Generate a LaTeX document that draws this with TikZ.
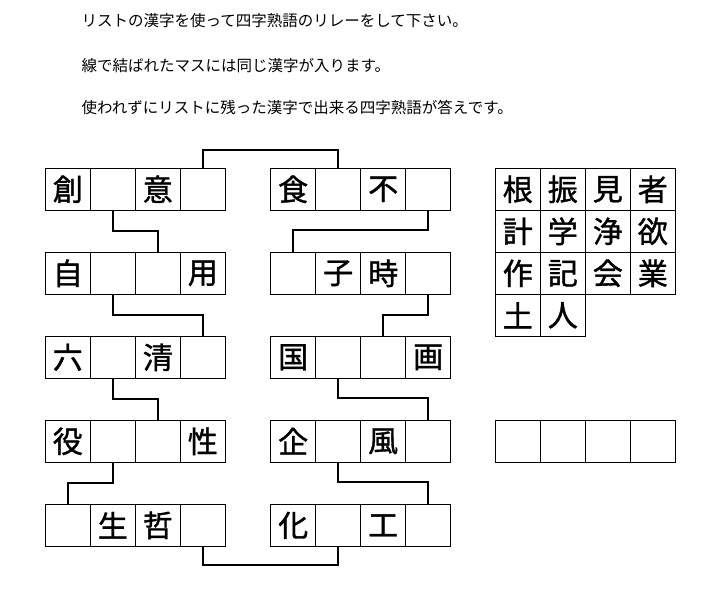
\documentclass[tikz,border=0pt]{standalone}
\usepackage{fontspec}
\newfontfamily\jp{Noto Sans CJK JP}
\newfontfamily\jpcell[FakeBold=1.2]{Noto Sans CJK JP}
\usetikzlibrary{calc}
\tikzset{
  cell/.style={draw=black, line width=1.3pt, minimum width=45pt, minimum height=42pt,
    inner sep=0pt, font=\jpcell\fontsize{30}{30}\selectfont},
  conn/.style={draw=black, line width=2pt, line cap=rect},
  instr/.style={anchor=west, inner sep=0pt, font=\jp\fontsize{15.5}{15.5}\selectfont}
}
\newcommand\cellrow[4]{%
  \foreach \ch [count=\i] in {#4} {
    \node[cell] (#1c\i) at ({#2+45*(\i-0.5)}, {-(#3+21)}) {\ch};
  }%
}
\begin{document}
\begin{tikzpicture}[x=1pt, y=1pt]
\useasboundingbox (0,0) rectangle (721,-589);
% instructions
\node[instr] (t1) at (81.5,-21) {リストの漢字を使って四字熟語のリレーをして下さい。};
\node[instr] (t2) at (81.5,-66) {線で結ばれたマスには同じ漢字が入ります。};
\node[instr] (t3) at (81.5,-108) {使われずにリストに残った漢字で出来る四字熟語が答えです。};
% left block
\cellrow{La}{45.3}{168.3}{創,{},意,{}}
\cellrow{Lb}{45.3}{252.3}{自,{},{},用}
\cellrow{Lc}{45.3}{336.3}{六,{},清,{}}
\cellrow{Ld}{45.3}{420.3}{役,{},{},性}
\cellrow{Le}{45.3}{504.3}{{},生,哲,{}}
% right block
\cellrow{Ra}{270.7}{168.3}{食,{},不,{}}
\cellrow{Rb}{270.7}{252.3}{{},子,時,{}}
\cellrow{Rc}{270.7}{336.3}{国,{},{},画}
\cellrow{Rd}{270.7}{420.3}{企,{},風,{}}
\cellrow{Re}{270.7}{504.3}{化,{},工,{}}
% list
\cellrow{Ka}{495.3}{168.3}{根,振,見,者}
\cellrow{Kb}{495.3}{210.3}{計,学,浄,欲}
\cellrow{Kc}{495.3}{252.3}{作,記,会,業}
\cellrow{Kd}{495.3}{294.3}{土,人}
% answer row
\cellrow{Ans}{495.3}{420.3}{{},{},{},{}}
% connectors
\draw[conn] (Lac4.north) -- ++(0,17.3) -| (Rac2.north);
\draw[conn] (Lac2.south) -- ++(0,-20) -| (Lbc3.north);
\draw[conn] (Rac4.south) -- ++(0,-19) -| (Rbc1.north);
\draw[conn] (Lbc2.south) -- ++(0,-20) -| (Lcc4.north);
\draw[conn] (Rbc4.south) -- ++(0,-20) -| (Rcc3.north);
\draw[conn] (Lcc2.south) -- ++(0,-20.3) -| (Ldc3.north);
\draw[conn] (Rcc2.south) -- ++(0,-19.5) -| (Rdc4.north);
\draw[conn] (Ldc2.south) -- ++(0,-20) -| (Lec1.north);
\draw[conn] (Rdc2.south) -- ++(0,-19.5) -| (Rec4.north);
\draw[conn] (Lec4.south) -- ++(0,-17.7) -| (Rec2.south);
\end{tikzpicture}
\end{document}
